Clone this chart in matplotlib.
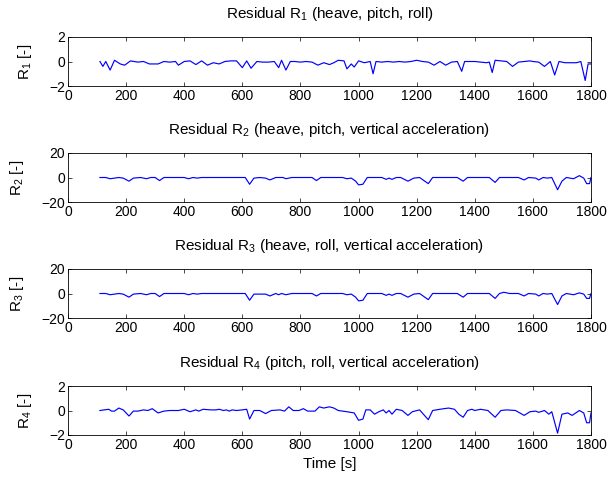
import numpy as np
import matplotlib.pyplot as plt

plt.rcParams['font.family'] = ['Liberation Sans', 'DejaVu Sans']
plt.rcParams['mathtext.fontset'] = 'custom'
plt.rcParams['mathtext.rm'] = 'Liberation Sans'
plt.rcParams['mathtext.it'] = 'Liberation Sans:italic'

# residual R1 (heave, pitch, roll)
t1 = [110, 120, 130, 145, 160, 180, 195, 215, 240, 260, 280, 310, 330, 350, 370, 380, 400, 420,
      440, 460, 480, 500, 520, 540, 560, 580, 600, 615, 630, 650, 670, 690, 710, 725, 735, 750,
      765, 780, 800, 820, 840, 860, 880, 900, 915, 930, 950, 960, 975, 985, 1000, 1020, 1040,
      1050, 1060, 1080, 1100, 1120, 1140, 1160, 1180, 1200, 1220, 1240, 1260, 1280, 1300, 1320,
      1340, 1355, 1365, 1380, 1400, 1420, 1440, 1450, 1460, 1470, 1490, 1510, 1530, 1550, 1570,
      1590, 1600, 1620, 1640, 1660, 1675, 1690, 1710, 1730, 1750, 1765, 1780, 1790, 1800]
r1 = [0, -0.4, 0, -0.7, 0.1, -0.2, -0.3, 0.05, -0.05, 0, -0.2, -0.2, 0, -0.05, 0, -0.3, 0, 0.05,
      -0.25, 0.05, -0.3, -0.1, -0.2, 0, 0.05, 0.05, -0.5, 0.05, -0.55, 0, -0.05, -0.05, 0, -0.5,
      0.1, -0.7, 0, 0, -0.05, 0, -0.05, -0.3, -0.1, -0.25, -0.1, 0.1, 0.05, -0.6, -0.2, -0.45,
      0.05, -0.1, 0, -1.0, 0, -0.05, 0, -0.05, 0, -0.05, 0, 0.1, 0, -0.05, -0.3, 0, -0.3, -0.05,
      0, -0.8, 0, 0, 0, -0.05, -0.1, -0.05, -0.9, 0.1, 0.05, 0, -0.4, -0.05, 0, 0.05, 0, -0.05,
      -0.4, 0, -1.1, 0, -0.1, -0.1, -0.1, 0, -1.55, -0.2, -0.2]

# residual R2 (heave, pitch, vertical acceleration)
t2 = [110, 130, 145, 160, 175, 190, 210, 225, 250, 270, 285, 300, 315, 330, 400, 415, 430, 445,
      460, 600, 610, 625, 640, 660, 680, 695, 715, 740, 750, 770, 840, 855, 870, 945, 960, 975,
      990, 1000, 1015, 1030, 1080, 1095, 1105, 1115, 1130, 1145, 1170, 1190, 1210, 1240, 1255,
      1340, 1360, 1375, 1450, 1470, 1485, 1550, 1570, 1585, 1610, 1620, 1635, 1650, 1665, 1685,
      1700, 1715, 1740, 1760, 1775, 1785, 1795, 1800]
r2 = [0, 0, -1.0, -0.5, 0, -0.5, -3, -0.5, 0, -1, 0, 0, -2.5, 0, 0, -1, 0, -0.5,
      0, 0, 0, -5.5, -0.5, 0, -0.5, -2, 0, 0, -1, 0, 0, -2.5, 0, 0, -1, -0.5,
      -3, -6, -5.5, 0, 0, -1.5, -0.5, -1.5, 0, 0, -3, -0.5, 0, -5, 0,
      0, -3, 0, 0, -4, 0, 0, -2, 0, -0.5, -2, 0, -0.5, 0, -10,
      -3, 0, -1, 1.5, -0.5, -5, -5, 0]

# residual R3 (heave, roll, vertical acceleration)
t3 = [110, 130, 145, 160, 175, 190, 210, 225, 250, 270, 285, 300, 315, 330, 400, 415, 430, 445,
      460, 600, 610, 625, 640, 660, 680, 695, 715, 725, 735, 750, 770, 840, 855, 870, 945, 960,
      975, 990, 1000, 1015, 1030, 1080, 1095, 1105, 1115, 1130, 1145, 1170, 1190, 1210, 1240,
      1255, 1340, 1360, 1375, 1450, 1470, 1485, 1500, 1520, 1550, 1570, 1585, 1610, 1620, 1635,
      1650, 1665, 1685, 1700, 1715, 1740, 1760, 1775, 1785, 1795, 1800]
r3 = [0, 0, -1.0, -0.5, 0, -0.5, -3, -0.5, 0, -1, 0, 0, -2.5, 0, 0, -1, 0, -0.5,
      0, 0, 0, -5.5, -0.5, -0.5, -0.5, -2, 0, -1, 0, -1, 0, 0, -2, 0, 0, -1,
      -0.5, -3, -6, -5.5, 0, 0, -1.5, -0.5, -1.5, 0, 0, -3, -0.5, 0, -5,
      0, 0, -3, 0, 0, -4, 0, 1, 0, 0, -2, 0, -0.5, -2, 0,
      -0.5, 0, -9, -2, 0, -1, 0.5, -0.5, -4, -4, 0]

# residual R4 (pitch, roll, vertical acceleration)
t4 = [110, 125, 140, 150, 160, 175, 190, 210, 225, 240, 260, 275, 290, 310, 330, 350, 380, 400,
      420, 440, 450, 465, 490, 510, 520, 535, 545, 555, 565, 580, 600, 615, 625, 640, 660, 680,
      700, 730, 745, 760, 775, 795, 810, 825, 850, 865, 880, 900, 915, 930, 960, 985, 1000, 1015,
      1025, 1040, 1055, 1070, 1085, 1095, 1105, 1115, 1130, 1150, 1170, 1185, 1210, 1240, 1255,
      1280, 1310, 1330, 1345, 1360, 1375, 1390, 1400, 1420, 1445, 1470, 1490, 1510, 1540, 1555,
      1570, 1590, 1610, 1620, 1640, 1655, 1665, 1685, 1700, 1720, 1735, 1760, 1775, 1785, 1795, 1800]
r4 = [0, 0.05, 0.1, -0.05, -0.05, 0.2, 0.05, -0.45, -0.05, -0.05, 0.05, 0, 0.15, -0.2, -0.05, 0, 0, 0.1,
      -0.1, 0.05, -0.05, 0.1, 0.05, 0.05, 0.1, 0, 0.05, -0.05, 0.05, 0, 0.05, 0.1, -0.7, 0, 0, -0.25,
      0, 0.05, -0.05, 0.3, 0, 0, 0.15, -0.05, -0.05, 0.3, 0.2, 0.3, 0.2, 0, -0.1, -0.2, -0.8, -0.7,
      0.05, 0.05, -0.3, -0.1, 0.05, -0.2, 0, -0.3, 0.1, 0, -0.4, -0.1, 0.05, -0.75, 0,
      0.1, 0.2, 0.1, -0.3, -0.55, 0, 0.1, 0, 0.1, 0, -0.55, 0, 0.05, 0, -0.2,
      -0.4, -0.1, -0.05, -0.15, 0, -0.3, -0.1, -1.85, -0.3, -0.2, -0.4, 0, -0.2, -1.0, -1.0, -0.2]

titles = [r'Residual R$_{\mathrm{1}}$ (heave, pitch, roll)',
          r'Residual R$_{\mathrm{2}}$ (heave, pitch, vertical acceleration)',
          r'Residual R$_{\mathrm{3}}$ (heave, roll, vertical acceleration)',
          r'Residual R$_{\mathrm{4}}$ (pitch, roll, vertical acceleration)']
ylabels = [r'R$_{\mathrm{%d}}$ [-]' % i for i in range(1, 5)]
ylims = [2, 20, 20, 2]
series = [(t1, r1), (t2, r2), (t3, r3), (t4, r4)]

fig = plt.figure(figsize=(6.15, 4.8), dpi=100)
tops = [37, 153, 269, 386]
for i, (t, r) in enumerate(series):
    top = 1 - tops[i] / 480
    h = 49 / 480
    ax = fig.add_axes([68 / 615, top - h, 523 / 615, h])
    ax.plot(t, r, color='#0000ff', lw=0.85)
    ax.set_xlim(0, 1800)
    ax.set_ylim(-ylims[i], ylims[i])
    ax.set_xticks(np.arange(0, 1801, 200))
    ax.set_yticks([-ylims[i], 0, ylims[i]])
    ax.tick_params(direction='in', top=True, right=True, length=3, width=0.5,
                   labelsize=10, pad=2)
    for s in ax.spines.values():
        s.set_linewidth(0.6)
    ax.set_title(titles[i], fontsize=11, pad=14)
    ax.set_ylabel(ylabels[i], fontsize=11, labelpad=11)
    if i == 3:
        ax.set_xlabel('Time [s]', fontsize=11, labelpad=4)

fig.savefig('out.png', dpi=100)
